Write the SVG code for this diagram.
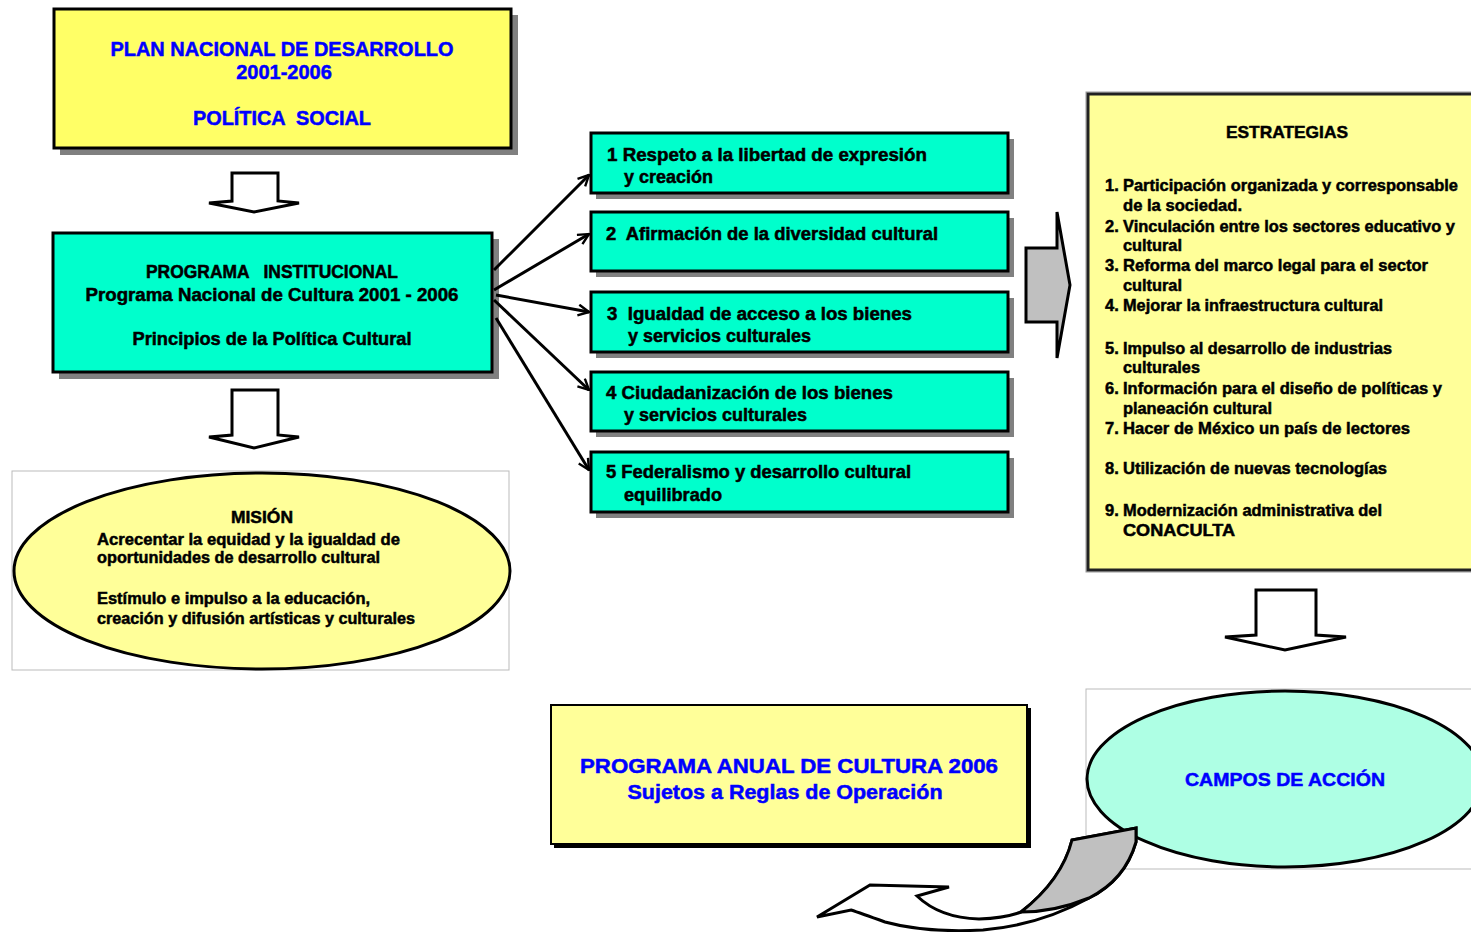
<svg xmlns="http://www.w3.org/2000/svg" width="1471" height="932" viewBox="0 0 1471 932">
<defs>
<marker id="open" viewBox="0 0 12 12" refX="11" refY="6" markerWidth="13" markerHeight="13" markerUnits="userSpaceOnUse" orient="auto">
<path d="M1,1 L11,6 L1,11" fill="none" stroke="#000" stroke-width="2.2"/>
</marker>
</defs>
<style>
text{font-family:"Liberation Sans",Arial,sans-serif;font-weight:bold;white-space:pre;}
.blue{fill:#0000FF;stroke:#0000FF;stroke-width:0.5;}
.blk{fill:#000;stroke:#000;stroke-width:0.5;}
.shadow{fill:#808080;}
.box{stroke:#000;stroke-width:3;}
.cyan{fill:#00FFCC;}
.ly{fill:#FFFF99;}
.hollow{fill:#FFFFFF;stroke:#000;stroke-width:3;stroke-linejoin:miter;}
.frame{fill:#FFFFFF;stroke:#BBBBBB;stroke-width:1;}
.conn{stroke:#000;stroke-width:3;fill:none;}
.s18{font-size:18px;}
.s16{font-size:16.5px;}
</style>
<rect width="1471" height="932" fill="#FFFFFF"/>

<g id="plan-nacional">
<rect class="shadow" x="60" y="15" width="458" height="140"/>
<rect class="box" x="54" y="9" width="457" height="139" fill="#FFFF66"/>
<text class="blue" x="282" y="56" font-size="20" text-anchor="middle" textLength="343" lengthAdjust="spacingAndGlyphs">PLAN NACIONAL DE DESARROLLO</text>
<text class="blue" x="284" y="79" font-size="20" text-anchor="middle">2001-2006</text>
<text class="blue" x="282" y="125" font-size="20" text-anchor="middle" textLength="178" lengthAdjust="spacingAndGlyphs">POLÍTICA  SOCIAL</text>
</g>

<g id="arrow-down-1">
<polygon class="hollow" points="232,173 278,173 278,201 299,203 254,212 209,203 232,201"/>
</g>

<g id="programa-institucional">
<rect class="shadow" x="59" y="239" width="440" height="140"/>
<rect class="box cyan" x="53" y="233" width="439" height="139"/>
<text class="blk s18" x="272" y="278" text-anchor="middle" textLength="252" lengthAdjust="spacingAndGlyphs">PROGRAMA   INSTITUCIONAL</text>
<text class="blk s18" x="272" y="301" text-anchor="middle" textLength="373" lengthAdjust="spacingAndGlyphs">Programa Nacional de Cultura 2001 - 2006</text>
<text class="blk s18" x="272" y="345" text-anchor="middle" textLength="279" lengthAdjust="spacingAndGlyphs">Principios de la Política Cultural</text>
</g>

<g id="arrow-down-2">
<polygon class="hollow" points="232,390 278,390 278,435 299,437 254,448 209,437 232,435"/>
</g>

<g id="mision">
<rect class="frame" x="12" y="471" width="497" height="199"/>
<ellipse class="ly" cx="262" cy="571" rx="248" ry="98" stroke="#000" stroke-width="3"/>
<text class="blk s16" x="262" y="523" text-anchor="middle" textLength="62" lengthAdjust="spacingAndGlyphs">MISIÓN</text>
<text class="blk s16" x="97" y="545" textLength="303" lengthAdjust="spacingAndGlyphs">Acrecentar la equidad y la igualdad de</text>
<text class="blk s16" x="97" y="563" textLength="283" lengthAdjust="spacingAndGlyphs">oportunidades de desarrollo cultural</text>
<text class="blk s16" x="97" y="604" textLength="273" lengthAdjust="spacingAndGlyphs">Estímulo e impulso a la educación,</text>
<text class="blk s16" x="97" y="624" textLength="318" lengthAdjust="spacingAndGlyphs">creación y difusión artísticas y culturales</text>
</g>

<g id="principio-1">
<rect class="shadow" x="596" y="139" width="418" height="60"/>
<rect class="box cyan" x="591" y="133" width="417" height="60"/>
<text class="blk s18" x="607" y="161" textLength="320" lengthAdjust="spacingAndGlyphs">1 Respeto a la libertad de expresión</text>
<text class="blk s18" x="624" y="183" textLength="89" lengthAdjust="spacingAndGlyphs">y creación</text>
</g>
<g id="principio-2">
<rect class="shadow" x="596" y="218" width="418" height="59"/>
<rect class="box cyan" x="591" y="212" width="417" height="59"/>
<text class="blk s18" x="606" y="240" textLength="332" lengthAdjust="spacingAndGlyphs">2  Afirmación de la diversidad cultural</text>
</g>
<g id="principio-3">
<rect class="shadow" x="596" y="298" width="418" height="60"/>
<rect class="box cyan" x="591" y="292" width="417" height="60"/>
<text class="blk s18" x="607" y="320" textLength="305" lengthAdjust="spacingAndGlyphs">3  Igualdad de acceso a los bienes</text>
<text class="blk s18" x="628" y="342" textLength="183" lengthAdjust="spacingAndGlyphs">y servicios culturales</text>
</g>
<g id="principio-4">
<rect class="shadow" x="596" y="378" width="418" height="59"/>
<rect class="box cyan" x="591" y="372" width="417" height="59"/>
<text class="blk s18" x="606" y="399" textLength="287" lengthAdjust="spacingAndGlyphs">4 Ciudadanización de los bienes</text>
<text class="blk s18" x="624" y="421" textLength="183" lengthAdjust="spacingAndGlyphs">y servicios culturales</text>
</g>
<g id="principio-5">
<rect class="shadow" x="596" y="458" width="418" height="60"/>
<rect class="box cyan" x="591" y="452" width="417" height="60"/>
<text class="blk s18" x="606" y="478" textLength="305" lengthAdjust="spacingAndGlyphs">5 Federalismo y desarrollo cultural</text>
<text class="blk s18" x="624" y="501" textLength="98" lengthAdjust="spacingAndGlyphs">equilibrado</text>
</g>

<g id="arrow-right-gray">
<polygon points="1026,248 1057,248 1057,212 1070,285 1057,358 1057,322 1026,322" fill="#C0C0C0" stroke="#000" stroke-width="3"/>
</g>

<g id="estrategias">
<rect x="1086" y="92" width="404" height="480" fill="none" stroke="#999" stroke-width="1"/>
<rect class="ly" x="1088" y="94" width="400" height="476" stroke="#222" stroke-width="3"/>
<text class="blk" x="1287" y="138" font-size="17" text-anchor="middle" textLength="122" lengthAdjust="spacingAndGlyphs">ESTRATEGIAS</text>
<g class="s16">
<text class="blk" x="1105" y="191">1.</text>
<text class="blk" x="1123" y="191" textLength="335" lengthAdjust="spacingAndGlyphs">Participación organizada y corresponsable</text>
<text class="blk" x="1123" y="211" textLength="119" lengthAdjust="spacingAndGlyphs">de la sociedad.</text>
<text class="blk" x="1105" y="232">2.</text>
<text class="blk" x="1123" y="232" textLength="332" lengthAdjust="spacingAndGlyphs">Vinculación entre los sectores educativo y</text>
<text class="blk" x="1123" y="251" textLength="59" lengthAdjust="spacingAndGlyphs">cultural</text>
<text class="blk" x="1105" y="271">3.</text>
<text class="blk" x="1123" y="271" textLength="305" lengthAdjust="spacingAndGlyphs">Reforma del marco legal para el sector</text>
<text class="blk" x="1123" y="291" textLength="59" lengthAdjust="spacingAndGlyphs">cultural</text>
<text class="blk" x="1105" y="311">4.</text>
<text class="blk" x="1123" y="311" textLength="260" lengthAdjust="spacingAndGlyphs">Mejorar la infraestructura cultural</text>
<text class="blk" x="1105" y="354">5.</text>
<text class="blk" x="1123" y="354" textLength="269" lengthAdjust="spacingAndGlyphs">Impulso al desarrollo de industrias</text>
<text class="blk" x="1123" y="373" textLength="77" lengthAdjust="spacingAndGlyphs">culturales</text>
<text class="blk" x="1105" y="394">6.</text>
<text class="blk" x="1123" y="394" textLength="319" lengthAdjust="spacingAndGlyphs">Información para el diseño de políticas y</text>
<text class="blk" x="1123" y="414" textLength="149" lengthAdjust="spacingAndGlyphs">planeación cultural</text>
<text class="blk" x="1105" y="434">7.</text>
<text class="blk" x="1123" y="434" textLength="287" lengthAdjust="spacingAndGlyphs">Hacer de México un país de lectores</text>
<text class="blk" x="1105" y="474">8.</text>
<text class="blk" x="1123" y="474" textLength="264" lengthAdjust="spacingAndGlyphs">Utilización de nuevas tecnologías</text>
<text class="blk" x="1105" y="516">9.</text>
<text class="blk" x="1123" y="516" textLength="259" lengthAdjust="spacingAndGlyphs">Modernización administrativa del</text>
<text class="blk" x="1123" y="536" textLength="112" lengthAdjust="spacingAndGlyphs">CONACULTA</text>
</g>
</g>

<g id="arrow-down-3">
<polygon class="hollow" points="1256,590 1316,590 1316,635 1346,637 1285,650 1225,637 1256,635"/>
</g>

<g id="campos-de-accion">
<rect class="frame" x="1086" y="689" width="390" height="180"/>
<ellipse cx="1285" cy="779" rx="198" ry="88" fill="#AEFFE4" stroke="#000" stroke-width="3"/>
<text class="blue" x="1285" y="786" font-size="19" text-anchor="middle" textLength="200" lengthAdjust="spacingAndGlyphs">CAMPOS DE ACCIÓN</text>
</g>

<g id="programa-anual">
<rect x="554" y="708" width="477" height="140" fill="#000"/>
<rect class="ly" x="551" y="705" width="476" height="139" stroke="#000" stroke-width="2"/>
<text class="blue" x="789" y="773" font-size="20" text-anchor="middle" textLength="418" lengthAdjust="spacingAndGlyphs">PROGRAMA ANUAL DE CULTURA 2006</text>
<text class="blue" x="785" y="799" font-size="20" text-anchor="middle" textLength="315" lengthAdjust="spacingAndGlyphs">Sujetos a Reglas de Operación</text>
</g>

<g id="curved-arrow">
<path d="M817,917 L870,885 L949,887 L917,896 Q940,918 979,919 Q1005,918 1021,912 Q1062,880 1072,840 L1136,828 L1136,842 Q1125,880 1089,898 Q1040,925 983,930 Q925,933 885,922 Q860,913 851,910 Z" fill="#FFFFFF" stroke="#000" stroke-width="3" stroke-linejoin="miter"/>
<path d="M1072,840 L1136,828 L1136,842 Q1125,880 1089,898 Q1055,912 1021,912 Q1062,880 1072,840 Z" fill="#C0C0C0" stroke="#000" stroke-width="3"/>
</g>

<g id="connectors">
<line class="conn" x1="494" y1="270" x2="589" y2="175" marker-end="url(#open)"/>
<line class="conn" x1="494" y1="290" x2="589" y2="234" marker-end="url(#open)"/>
<line class="conn" x1="496" y1="295" x2="589" y2="312" marker-end="url(#open)"/>
<line class="conn" x1="494" y1="300" x2="589" y2="390" marker-end="url(#open)"/>
<line class="conn" x1="496" y1="318" x2="589" y2="470" marker-end="url(#open)"/>
</g>
</svg>
